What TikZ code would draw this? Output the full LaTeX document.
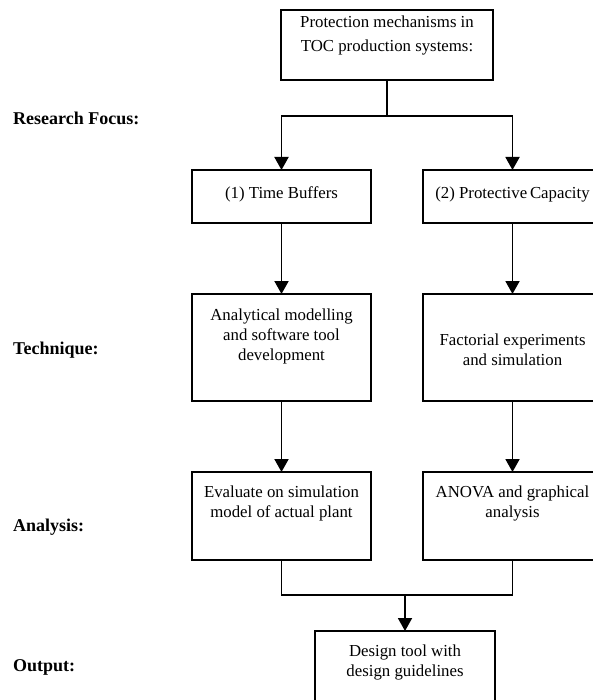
\documentclass[tikz,border=0pt]{standalone}
\usepackage{fontspec}
\setmainfont{Liberation Serif}
\usetikzlibrary{arrows.meta}
\begin{document}
\begin{tikzpicture}[x=1pt,y=-1pt,
  box/.style={draw,line width=1.9pt,inner sep=0pt,outer sep=0pt,anchor=north west},
  txt/.style={align=center,inner sep=0pt,font=\fontsize{16.8}{20}\selectfont},
  lbl/.style={anchor=west,inner sep=0pt,font=\fontsize{18}{21}\selectfont\bfseries},
  link/.style={line width=1.9pt},
  arr/.style={line width=1.9pt,-{Triangle[width=14pt,length=13pt]}}]
\useasboundingbox (0,0) rectangle (593,700);
\clip (0,0) rectangle (593,700);

% boxes
\node[box,minimum width=212pt,minimum height=70pt] (top) at (281,10) {};
\node[box,minimum width=179pt,minimum height=53pt] (tb) at (192,170) {};
\node[box,minimum width=179pt,minimum height=53pt] (pc) at (423,170) {};
\node[box,minimum width=179pt,minimum height=107pt] (am) at (192,294) {};
\node[box,minimum width=179pt,minimum height=107pt] (fe) at (423,294) {};
\node[box,minimum width=179pt,minimum height=88pt] (ev) at (192,472) {};
\node[box,minimum width=179pt,minimum height=88pt] (an) at (423,472) {};
\node[box,minimum width=180pt,minimum height=100pt] (dt) at (315,631) {};

% box texts
\node[txt,font=\fontsize{16.8}{24}\selectfont] (topT) at (387,35) {Protection mechanisms in\\TOC production systems:};
\node[txt] (tbT) at (281.5,194) {(1) Time Buffers};
\node[txt] (pcT) at (512.5,194) {(2) Protective\,Capacity};
\node[txt] (amT) at (281.5,336) {Analytical modelling\\and software tool\\development};
\node[txt] (feT) at (512.5,350) {Factorial experiments\\and simulation};
\node[txt] (evT) at (281.5,503) {Evaluate on simulation\\model of actual plant};
\node[txt] (anT) at (512.5,503) {ANOVA and graphical\\analysis};
\node[txt] (dtT) at (405,662) {Design tool with\\design guidelines};

% row labels
\node[lbl] (l1) at (13,118) {Research Focus:};
\node[lbl] (l2) at (13,350) {Technique:};
\node[lbl] (l3) at (13,527) {Analysis:};
\node[lbl] (l4) at (13,667) {Output:};

% split point below the top box, merge point above the output box
\coordinate (split) at ([yshift=-36pt]top.south);
\coordinate (merge) at ([yshift=36pt]dt.north);

% connectors
\draw[link] (top.south) -- (split);
\draw[arr] (split) -| (tb.north);
\draw[arr] (split) -| (pc.north);
\draw[arr] (tb.south) -- (am.north);
\draw[arr] (pc.south) -- (fe.north);
\draw[arr] (am.south) -- (ev.north);
\draw[arr] (fe.south) -- (an.north);
\draw[link] (ev.south) |- (merge) -| (an.south);
\draw[arr] (merge) -- (dt.north);
\end{tikzpicture}
\end{document}
